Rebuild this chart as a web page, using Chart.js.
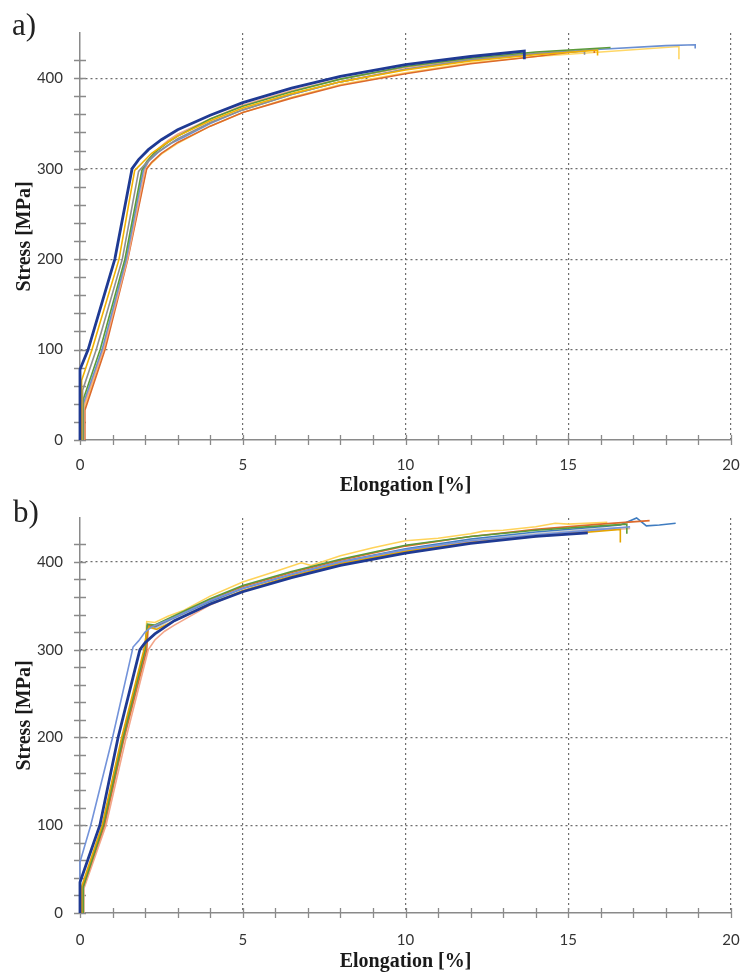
<!DOCTYPE html>
<html>
<head>
<meta charset="utf-8">
<script src="https://cdn.jsdelivr.net/npm/chart.js@4/dist/chart.umd.min.js"></script>
<style>
  body { margin: 0; background: #fff; width: 740px; height: 976px; position: relative; overflow: hidden; }
  canvas { position: absolute; left: 0; }
  .tag { position: absolute; font-family: "Liberation Serif", serif; font-size: 31px; line-height: 1; color: #222; }
</style>
</head>
<body>
<canvas id="chart-a" width="740" height="500" style="top:0"></canvas>
<canvas id="chart-b" width="740" height="476" style="top:500px"></canvas>
<div class="tag" style="left:12px; top:9px">a)</div>
<div class="tag" style="left:13px; top:496px">b)</div>
<script>
// Tensile curves: elongation [%] vs stress [MPa].
// Each specimen = one x array + one y array (vertical steps are the jaw
// seating at the start and the fracture drop at the end).

// ---- panel a) ----
const aNavyX = [0, 0, 0.25, 1.07, 1.6, 1.8, 2.1, 2.5, 3, 4, 5, 6.5, 8, 10, 12, 13.65, 13.65];
const aNavyY = [0, 78, 100, 200, 300, 310, 321, 332, 343, 359, 373, 389, 402, 415, 424, 430, 421];
const aGoldX = [0.05, 0.05, 0.37, 1.2, 1.68, 1.9, 2.2, 2.6, 3, 4, 5, 6.5, 8, 10, 12, 14, 15.9, 15.9];
const aGoldY = [0, 66, 100, 200, 298, 306, 317, 327, 336, 353, 367, 383, 396, 409, 419, 426, 431, 425];
const aGrayX = [0.08, 0.08, 0.5, 1.3, 1.8, 2.0, 2.3, 2.7, 3, 4, 5, 6.5, 8, 10, 12, 14, 15.5, 15.5];
const aGrayY = [0, 55, 100, 200, 297, 305, 316, 326, 333, 351, 365, 382, 396, 410, 420, 427, 430, 426];
const aGreenX = [0.1, 0.1, 0.62, 1.38, 1.9, 2.05, 2.3, 2.7, 3, 4, 5, 6.5, 8, 10, 12, 14, 16.3];
const aGreenY = [0, 45, 100, 200, 298, 308, 318, 329, 336, 355, 369, 385, 399, 413, 422, 429, 434];
const aBlueX = [0.1, 0.1, 0.68, 1.42, 1.95, 2.1, 2.4, 2.8, 3.2, 4, 5, 6.5, 8, 10, 12, 14, 16, 18, 18.9, 18.9];
const aBlueY = [0, 40, 100, 200, 299, 308, 318, 328, 335, 350, 365, 382, 396, 410, 420, 427, 432, 436, 437, 433];
const aPeachX = [0.12, 0.12, 0.72, 1.46, 2.0, 2.15, 2.4, 2.7, 3, 4, 5, 6.5, 8, 10, 12, 14, 15.2];
const aPeachY = [0, 38, 100, 200, 300, 312, 322, 331, 338, 355, 370, 386, 399, 412, 421, 428, 431];
const aOrangeX = [0.15, 0.15, 0.77, 1.47, 2.05, 2.2, 2.5, 3, 4, 5, 6.5, 8, 10, 12, 14, 15.8, 15.8];
const aOrangeY = [0, 33, 100, 200, 300, 307, 317, 329, 347, 362, 378, 392, 405, 416, 424, 432, 428];
const aCreamX = [0.13, 0.13, 0.74, 1.45, 2.03, 2.2, 2.5, 3, 4, 5, 6.5, 8, 10, 12, 14, 16, 18.4, 18.4];
const aCreamY = [0, 35, 100, 200, 299, 306, 316, 328, 347, 362, 379, 393, 406, 417, 424, 429, 435, 421];

// ---- panel b) ----
const bNavyX = [0, 0, 0.61, 1.17, 1.84, 2.0, 2.3, 2.9, 4, 5, 6.5, 8, 10, 12, 14, 15.6];
const bNavyY = [0, 35, 100, 200, 300, 308, 318, 333, 352, 366, 382, 396, 410, 421, 429, 433];
const bSkyX = [0, 0, 0.33, 1.0, 1.63, 1.8, 2.0, 2.2, 2.9, 4, 5, 6.5, 8, 10, 12, 14, 16, 16.9];
const bSkyY = [0, 58, 100, 200, 303, 310, 320, 326, 337, 356, 370, 386, 400, 414, 424, 431, 437, 440];
const bGoldX = [0.05, 0.05, 0.68, 1.28, 1.95, 2.05, 2.12, 2.35, 2.9, 4, 5, 6.5, 8, 10, 12, 14, 16.6, 16.6];
const bGoldY = [0, 30, 100, 200, 298, 320, 326, 323, 333, 352, 367, 384, 398, 412, 422, 429, 437, 422];
const bCreamX = [0.08, 0.08, 0.7, 1.3, 2.0, 2.05, 2.3, 2.7, 3.2, 4, 5, 6, 6.8, 7.1, 8, 9, 9.6, 10, 11, 12, 12.4, 13, 14, 14.6, 15, 16.2];
const bCreamY = [0, 28, 100, 200, 300, 332, 331, 338, 345, 361, 377, 389, 399, 396, 407, 416, 421, 424, 427, 432, 435, 436, 440, 444, 443, 445];
const bGreenX = [0.1, 0.1, 0.72, 1.33, 2.0, 2.07, 2.3, 2.8, 4, 5, 6.5, 8, 10, 12, 14, 16, 16.8, 16.8];
const bGreenY = [0, 30, 100, 200, 300, 329, 328, 337, 358, 373, 389, 403, 419, 429, 436, 441, 443, 432];
const bOrangeX = [0.1, 0.1, 0.75, 1.36, 2.05, 2.1, 2.3, 2.8, 4, 5, 6.5, 8, 10, 12, 14, 16, 17.5];
const bOrangeY = [0, 30, 100, 200, 300, 328, 327, 336, 357, 372, 388, 402, 418, 429, 437, 443, 447];
const bBlueX = [0.1, 0.1, 0.7, 1.3, 2.0, 2.07, 2.3, 2.8, 4, 5, 6.5, 8, 10, 12, 14, 16, 16.6, 17.1, 17.4, 17.8, 18.3];
const bBlueY = [0, 32, 100, 200, 300, 327, 326, 335, 355, 370, 386, 400, 415, 426, 434, 440, 442, 450, 441, 442, 444];
const bSalmonX = [0.12, 0.12, 0.8, 1.42, 2.1, 2.3, 2.6, 2.9, 4, 5, 6.5, 8, 10, 12, 14, 16, 16.9];
const bSalmonY = [0, 28, 100, 200, 300, 311, 321, 328, 351, 367, 383, 397, 413, 423, 431, 436, 438];
const bGrayX = [0.09, 0.09, 0.74, 1.35, 2.02, 2.08, 2.3, 2.8, 4, 5, 6.5, 8, 10, 12, 14, 16, 16.9];
const bGrayY = [0, 30, 100, 200, 300, 325, 324, 334, 354, 369, 385, 399, 414, 425, 432, 438, 439];

// axis ranges / tick steps
const X_MAX = 20, X_STEP = 1, X_LABEL_EVERY = 5;
const Y_MAX = 450, Y_STEP = 20, Y_LABEL_EVERY = 100;

const AXIS = "#8a8a8a";
const GRID = "#6e6e6e";

// first entry is drawn on top
const seriesA = [
  [aNavyX, aNavyY, "#1f3a93", 2.8],
  [aGoldX, aGoldY, "#f2b100", 1.6],
  [aGrayX, aGrayY, "#8f8f8f", 1.6],
  [aGreenX, aGreenY, "#5b9b3a", 1.6],
  [aBlueX, aBlueY, "#6a8fd2", 1.6],
  [aPeachX, aPeachY, "#f1a584", 1.6],
  [aOrangeX, aOrangeY, "#dc6a2c", 1.6],
  [aCreamX, aCreamY, "#ffd766", 1.6],
];
const seriesB = [
  [bNavyX, bNavyY, "#1f3a93", 2.8],
  [bSkyX, bSkyY, "#7393da", 1.6],
  [bGoldX, bGoldY, "#e5a500", 1.6],
  [bGreenX, bGreenY, "#5b9b3a", 1.6],
  [bOrangeX, bOrangeY, "#dc6a2c", 1.6],
  [bBlueX, bBlueY, "#3f7cc0", 1.6],
  [bGrayX, bGrayY, "#c4c4c4", 1.6],
  [bSalmonX, bSalmonY, "#f3a68a", 1.6],
  [bCreamX, bCreamY, "#ffd35a", 1.6],
];

function toPoints(xs, ys) {
  return xs.map((x, i) => ({ x, y: ys[i] }));
}

// Excel-style tick marks that cross the axis line
const crossTicks = {
  id: "crossTicks",
  beforeDatasetsDraw(chart) {
    const { ctx, chartArea, scales: { x, y } } = chart;
    ctx.save();
    ctx.strokeStyle = AXIS;
    ctx.lineWidth = 1.3;
    ctx.beginPath();
    y.ticks.forEach((t) => {
      if (t.value % Y_STEP !== 0) return;
      const p = Math.round(y.getPixelForValue(t.value)) + 0.5;
      ctx.moveTo(chartArea.left - 6, p);
      ctx.lineTo(chartArea.left + 6, p);
    });
    x.ticks.forEach((t) => {
      const p = Math.round(x.getPixelForValue(t.value)) + 0.5;
      ctx.moveTo(p, chartArea.bottom - 5);
      ctx.lineTo(p, chartArea.bottom + 5);
    });
    ctx.stroke();
    ctx.restore();
  },
};

function makeChart(id, series, topPad, xHeight, xTickPad) {
  const tickFont = { family: "Lato", size: 15 };
  const titleFont = { family: "Liberation Serif", size: 20, weight: "bold", lineHeight: 1 };
  return new Chart(document.getElementById(id), {
    type: "scatter",
    data: {
      datasets: series.map(([xs, ys, color, width]) => ({
        data: toPoints(xs, ys),
        showLine: true,
        borderColor: color,
        borderWidth: width,
        pointRadius: 0,
        tension: 0,
        clip: 6,
      })),
    },
    options: {
      responsive: false,
      animation: false,
      events: [],
      layout: { padding: { left: 0, top: topPad, right: 9, bottom: 0 } },
      plugins: { legend: { display: false }, tooltip: { enabled: false } },
      scales: {
        x: {
          type: "linear",
          min: 0,
          max: X_MAX,
          // fixed box so both panels share the reference's plot frame
          afterFit: (s) => { s.height = xHeight; s.paddingLeft = 0; s.paddingRight = 0; },
          ticks: {
            stepSize: X_STEP,
            autoSkip: false,
            maxRotation: 0,
            padding: xTickPad,
            font: tickFont,
            color: "#333",
            callback: (v) => (v % X_LABEL_EVERY === 0 ? v : ""),
          },
          grid: {
            drawTicks: false,
            lineWidth: 1.2,
            color: (c) => (c.tick && c.tick.value > 0 && c.tick.value % X_LABEL_EVERY === 0 ? GRID : "rgba(0,0,0,0)"),
          },
          border: { color: AXIS, width: 1.5, dash: [2, 3] },
          title: { display: true, text: "Elongation [%]", font: titleFont, color: "#1a1a1a", padding: { top: 0, bottom: 4 } },
        },
        y: {
          type: "linear",
          min: 0,
          max: Y_MAX,
          afterFit: (s) => { s.width = 80; s.paddingTop = 0; s.paddingBottom = 0; },
          ticks: {
            stepSize: Y_STEP,
            autoSkip: false,
            padding: 17,
            font: tickFont,
            color: "#333",
            callback: (v) => (v % Y_LABEL_EVERY === 0 ? v : ""),
          },
          grid: {
            drawTicks: false,
            lineWidth: 1.2,
            color: (c) => (c.tick && c.tick.value > 0 && c.tick.value % Y_LABEL_EVERY === 0 ? GRID : "rgba(0,0,0,0)"),
          },
          border: { color: AXIS, width: 1.5, dash: [2, 3] },
          title: { display: true, text: "Stress [MPa]", font: titleFont, color: "#1a1a1a", padding: { top: 15, bottom: 0 } },
        },
      },
    },
    plugins: [crossTicks],
  });
}

makeChart("chart-a", seriesA, 33, 60, 16);
makeChart("chart-b", seriesB, 18, 63, 18);
</script>
</body>
</html>
